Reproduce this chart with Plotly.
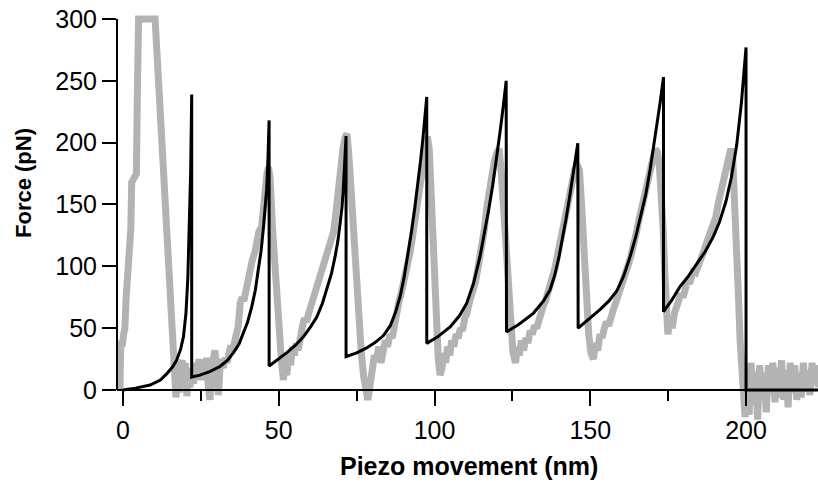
import plotly.graph_objects as go

# ---------------- data ----------------
# Raw force trace (grey), as (piezo nm, force pN) pairs, per stretch
gray_spike = [(-1.0, 0), (-0.7, 40), (-0.3, 35), (0.2, 45), (0.6, 50), (1.0, 75), (1.5, 95),
              (2.0, 112), (2.5, 130), (2.8, 168), (3.6, 171), (4.3, 175), (4.6, 240), (5.0, 300),
              (10.3, 300), (12.5, 200), (14.0, 130), (15.3, 60), (16.0, 22), (16.5, 5), (17.0, -6),
              (17.5, 12), (18.0, -2), (18.5, 20), (19.0, 24), (19.5, 8), (20.0, 22), (20.5, -5),
              (21.0, 15), (21.5, 2), (22.0, 18)]
gray_run2 = [(22.6, 5), (23.2, 22), (23.8, 10), (24.4, 25), (25.0, 8), (25.6, 20), (26.2, 12),
             (26.8, 26), (27.4, 2), (27.9, -8), (28.4, 15), (29.0, 30), (29.5, 32), (30.0, 20),
             (30.6, -4), (31.1, 16), (31.6, 25), (32.2, 18), (32.8, 26), (33.4, 22), (34.0, 30),
             (34.6, 36), (35.2, 32), (35.8, 40), (36.5, 42), (37.0, 52), (37.6, 70), (38.2, 75),
             (38.8, 72), (39.4, 80), (40.0, 88), (40.8, 100), (41.5, 105), (42.4, 112), (43.0, 125),
             (43.6, 128), (44.5, 132), (45.0, 150), (45.6, 165), (46.2, 175), (46.7, 180),
             (47.2, 172), (48.0, 130), (49.0, 85), (50.0, 45), (50.9, 22), (51.5, 8)]
gray_run3 = [(52.0, 25), (52.6, 12), (53.2, 30), (53.8, 20), (54.4, 35), (55.0, 28), (55.6, 38),
             (56.2, 32), (56.8, 45), (57.5, 50), (58.2, 58), (58.9, 55), (59.6, 62), (60.5, 70),
             (61.5, 78), (62.2, 85), (63.0, 88), (64.0, 100), (65.0, 110), (66.0, 118), (66.8, 125),
             (67.6, 128), (68.2, 140), (69.0, 160), (69.8, 180), (70.6, 195), (71.4, 205),
             (71.9, 207), (72.5, 190), (73.5, 145), (74.5, 100), (75.5, 60), (76.5, 30), (77.3, 10),
             (78.0, 0), (78.6, -8), (79.2, 2)]
gray_run4 = [(80.0, 15), (80.7, 28), (81.4, 25), (82.1, 35), (82.8, 22), (83.5, 30), (84.2, 40),
             (84.9, 35), (85.7, 45), (86.4, 42), (87.2, 55), (87.9, 60), (88.6, 72), (89.3, 78),
             (90.0, 85), (90.8, 95), (91.5, 105), (92.2, 112), (93.0, 125), (93.8, 140), (94.6, 155),
             (95.4, 165), (96.2, 180), (97.0, 195), (97.7, 205), (98.3, 195), (99.0, 150),
             (99.8, 100), (100.5, 55), (101.2, 25), (101.8, 12), (102.4, 18)]
gray_run5 = [(103.0, 30), (103.6, 22), (104.2, 35), (104.9, 28), (105.5, 40), (106.2, 35),
             (106.9, 45), (107.6, 42), (108.3, 50), (109.0, 48), (109.7, 58), (110.4, 62),
             (111.1, 70), (111.8, 75), (112.5, 82), (113.2, 88), (113.9, 98), (114.6, 108),
             (115.3, 118), (116.0, 130), (116.8, 148), (117.6, 162), (118.4, 175), (119.2, 185),
             (120.0, 192), (120.7, 195), (121.3, 180), (122.0, 150), (122.8, 110), (123.6, 75),
             (124.4, 45), (125.2, 30), (126.0, 22), (126.6, 35)]
gray_run6 = [(127.2, 28), (127.9, 40), (128.6, 32), (129.3, 42), (130.0, 38), (130.7, 48),
             (131.4, 45), (132.1, 52), (132.8, 50), (133.5, 58), (134.2, 62), (134.9, 68),
             (135.6, 72), (136.3, 78), (137.0, 82), (137.8, 90), (138.6, 98), (139.4, 108),
             (140.2, 118), (141.0, 128), (141.8, 140), (142.6, 150), (143.4, 160), (144.2, 170),
             (145.0, 178), (145.8, 182), (146.5, 178), (147.2, 150), (148.0, 110), (148.8, 70),
             (149.5, 45), (150.2, 30), (151.0, 25)]
gray_run7 = [(151.7, 38), (152.4, 32), (153.1, 45), (153.8, 42), (154.5, 50), (155.2, 55),
             (155.9, 52), (156.6, 60), (157.4, 65), (158.1, 70), (158.8, 75), (159.5, 78),
             (160.2, 85), (160.9, 92), (161.6, 95), (162.3, 102), (163.0, 108), (163.8, 115),
             (164.6, 125), (165.4, 135), (166.2, 145), (167.0, 155), (167.8, 165), (168.6, 172),
             (169.4, 180), (170.2, 188), (171.0, 195), (171.6, 192), (172.2, 180), (172.8, 160),
             (173.4, 130), (173.9, 95), (174.4, 60), (174.9, 45)]
gray_run8 = [(175.6, 58), (176.3, 50), (177.0, 62), (177.7, 68), (178.4, 72), (179.1, 78),
             (179.8, 75), (180.5, 82), (181.2, 88), (181.9, 86), (182.6, 92), (183.3, 98),
             (184.0, 96), (184.7, 102), (185.4, 108), (186.1, 110), (186.8, 115), (187.5, 120),
             (188.2, 122), (188.9, 128), (189.6, 135), (190.3, 140), (191.0, 150), (191.7, 158),
             (192.4, 168), (193.1, 175), (193.8, 185), (194.5, 192), (195.1, 195), (195.7, 188),
             (196.3, 160), (196.9, 120), (197.5, 80), (198.1, 40), (198.7, 5), (199.2, -15),
             (199.7, -22)]
gray_tail = [(200.3, 18), (201.0, -20), (201.6, 22), (202.3, -12), (203.0, 15), (203.7, -24),
             (204.4, 20), (205.1, -8), (205.8, 14), (206.5, -18), (207.2, 20), (207.9, -4),
             (208.6, 22), (209.3, -10), (210.0, 18), (210.7, -6), (211.4, 24), (212.1, -8),
             (212.8, 16), (213.5, -14), (214.2, 22), (214.9, -2), (215.6, 20), (216.3, -8),
             (217.0, 14), (217.7, -6), (218.4, 22), (219.1, 0), (219.8, 16), (220.5, -4),
             (221.2, 22), (221.9, 4), (222.6, 20), (223.3, 2)]

# WLC fit (black), one list per unfolding event
fit_1 = [(0, 0), (4, 1.5), (8.7, 4), (12, 8), (14.0, 13), (16, 19), (17.2, 24), (18.5, 33),
         (19.4, 43), (20.2, 62), (20.8, 90), (21.3, 130), (21.7, 175), (22.05, 239), (22.05, 10.5)]
fit_2 = [(24.7, 12), (28, 15), (31.1, 19), (33.5, 24), (35.4, 30), (37.2, 37), (38.6, 46),
         (40.0, 55), (41.3, 67), (42.5, 81), (43.4, 97), (44.3, 112), (45.0, 129), (45.6, 145),
         (46.1, 162), (46.5, 185), (46.9, 218), (46.9, 19.4)]
fit_3 = [(49.5, 24), (52.5, 30), (55.3, 36), (57.9, 43), (60.2, 51), (62.2, 59), (64.0, 70),
         (65.4, 81), (66.9, 94), (68.1, 108), (69.0, 121), (69.7, 135), (70.3, 148), (70.7, 162),
         (71.2, 182), (71.6, 205.4), (71.6, 26.9)]
fit_4 = [(75.0, 30), (78.2, 34), (81.0, 38.5), (83.6, 44), (85.8, 52), (87.5, 63), (89.0, 76),
         (90.3, 92), (91.5, 110), (92.6, 128), (93.6, 146), (94.6, 165), (95.5, 185), (96.3, 204),
         (97.0, 222), (97.5, 237), (97.5, 37.7)]
fit_5 = [(101, 43), (105, 51), (108, 60), (110.3, 70), (112.5, 86), (114.6, 108), (116.0, 126),
         (117.4, 146), (118.7, 166), (119.9, 187), (121.0, 208), (122.1, 230), (123.0, 250),
         (123.1, 47)]
fit_6 = [(127, 53), (131.7, 62), (135, 72), (137.1, 81), (138.6, 93), (139.9, 107), (141.1, 122),
         (142.2, 138), (143.3, 155), (144.3, 171), (145.2, 186), (146.0, 199.5), (146.1, 50)]
fit_7 = [(150, 58), (153.1, 65), (156, 72), (158.5, 80), (160.7, 92), (162.8, 108), (164.6, 124),
         (166.2, 140), (167.8, 158), (169.2, 178), (170.2, 194), (171.3, 212), (172.4, 232),
         (173.5, 253), (173.5, 63.3)]
fit_8 = [(176, 72), (178.8, 83.5), (181.5, 92), (184.2, 102.4), (186.9, 112), (189.5, 124),
         (191.5, 136), (193.5, 152), (195.3, 172), (197, 198), (198.5, 232), (200, 277),
         (200, 0), (223.5, 0)]

x_ticks = [0, 50, 100, 150, 200]
x_minor = [25, 75, 125, 175]
y_ticks = [0, 50, 100, 150, 200, 250, 300]
x_title = "Piezo movement (nm)"
y_title = "Force (pN)"

# ---------------- figure ----------------
gray = gray_spike + gray_run2 + gray_run3 + gray_run4 + gray_run5 + gray_run6 + gray_run7 + gray_run8 + gray_tail
fit = fit_1 + fit_2 + fit_3 + fit_4 + fit_5 + fit_6 + fit_7 + fit_8

X_MIN, X_MAX = -1.93, 223.1
Y_MIN, Y_MAX = -28.3, 303.2
W, H = 818, 484
ML, MR, MT, MB = 117, 0, 15, 59
plot_h = H - MT - MB
plot_w = W - ML - MR

fig = go.Figure()
fig.add_trace(go.Scatter(x=[p[0] for p in gray], y=[p[1] for p in gray], mode="lines",
                         line=dict(color="#b3b3b3", width=7), hoverinfo="skip"))
fig.add_trace(go.Scatter(x=[p[0] for p in fit], y=[p[1] for p in fit], mode="lines",
                         line=dict(color="black", width=3)))

font_family = "Liberation Sans, Arial, Helvetica, sans-serif"
fig.update_layout(
    width=W, height=H, margin=dict(l=ML, r=MR, t=MT, b=MB),
    paper_bgcolor="white", plot_bgcolor="white", showlegend=False,
    font=dict(family=font_family, color="black"),
)

fig.update_xaxes(
    range=[X_MIN, X_MAX], anchor="free", position=(0 - Y_MIN) / (Y_MAX - Y_MIN),
    showline=True, linecolor="black", linewidth=2, showgrid=False, zeroline=False,
    ticks="outside", ticklen=15, tickwidth=2, tickcolor="black",
    tickmode="array", tickvals=x_ticks, ticktext=[str(v) for v in x_ticks],
    tickfont=dict(size=25, family=font_family, color="black"), ticklabelstandoff=3,
    minor=dict(tickmode="array", tickvals=x_minor, ticks="outside", ticklen=10, tickwidth=2,
               tickcolor="black", showgrid=False),
)
fig.update_yaxes(
    range=[Y_MIN, Y_MAX], showline=False, showgrid=False, zeroline=False,
    ticks="outside", ticklen=14, tickwidth=2, tickcolor="black",
    tickmode="array", tickvals=y_ticks, ticktext=[str(v) for v in y_ticks],
    tickfont=dict(size=25, family=font_family, color="black"),
)

# y axis line only spans the 0..300 range, as in the original
fig.add_shape(type="line", xref="paper", yref="y", x0=0, x1=0, y0=y_ticks[0], y1=y_ticks[-1],
              line=dict(color="black", width=2))

fig.add_annotation(text="<b>" + x_title + "</b>", xref="paper", yref="paper",
                   x=(469 - ML) / plot_w, y=(H - MB - 466) / plot_h, xanchor="center", yanchor="middle",
                   showarrow=False, font=dict(size=25, family=font_family, color="black"))
fig.add_annotation(text="<b>" + y_title + "</b>", xref="paper", yref="paper", textangle=-90,
                   x=(23 - ML) / plot_w, y=(H - MB - 183) / plot_h, xanchor="center", yanchor="middle",
                   showarrow=False, font=dict(size=22, family=font_family, color="black"))

fig.write_html("out.html")
